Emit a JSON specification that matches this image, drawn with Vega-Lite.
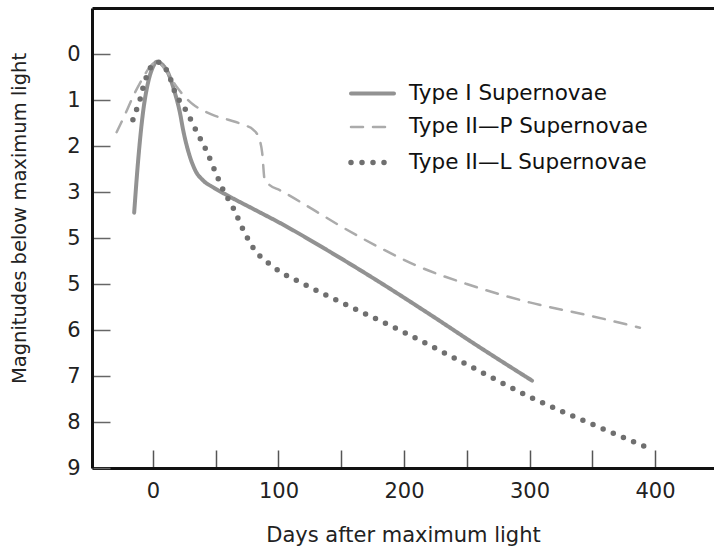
{
  "$schema": "https://vega.github.io/schema/vega-lite/v6.json",
  "width": 622,
  "height": 460,
  "autosize": {"type": "none"},
  "padding": {"left": 92, "top": 8, "right": 0, "bottom": 82},
  "background": "white",
  "config": {
    "view": {"stroke": null},
    "font": "DejaVu Sans",
    "legend": {
      "orient": "none", "legendX": 256, "legendY": 62, "title": null,
      "symbolType": "stroke", "symbolSize": 1849,
      "labelFont": "DejaVu Sans", "labelFontSize": 21.5, "labelColor": "#111", "labelLimit": 400,
      "labelOffset": 12, "padding": 0, "rowPadding": -3
    }
  },
  "data": {
    "values": [
      {"series": "Type I Supernovae", "day": -15, "mag": 3.45},
      {"series": "Type I Supernovae", "day": -12, "mag": 2.37},
      {"series": "Type I Supernovae", "day": -8, "mag": 1.28},
      {"series": "Type I Supernovae", "day": -4, "mag": 0.63},
      {"series": "Type I Supernovae", "day": 0, "mag": 0.28},
      {"series": "Type I Supernovae", "day": 3, "mag": 0.17},
      {"series": "Type I Supernovae", "day": 7, "mag": 0.22},
      {"series": "Type I Supernovae", "day": 12, "mag": 0.41},
      {"series": "Type I Supernovae", "day": 17.5, "mag": 0.85},
      {"series": "Type I Supernovae", "day": 21.5, "mag": 1.28},
      {"series": "Type I Supernovae", "day": 24, "mag": 1.65},
      {"series": "Type I Supernovae", "day": 29.5, "mag": 2.24},
      {"series": "Type I Supernovae", "day": 33.5, "mag": 2.52},
      {"series": "Type I Supernovae", "day": 40, "mag": 2.75},
      {"series": "Type I Supernovae", "day": 48, "mag": 2.9},
      {"series": "Type I Supernovae", "day": 59, "mag": 3.07},
      {"series": "Type I Supernovae", "day": 80, "mag": 3.37},
      {"series": "Type I Supernovae", "day": 101, "mag": 3.67},
      {"series": "Type I Supernovae", "day": 141, "mag": 4.3},
      {"series": "Type I Supernovae", "day": 180, "mag": 4.95},
      {"series": "Type I Supernovae", "day": 220, "mag": 5.65},
      {"series": "Type I Supernovae", "day": 260, "mag": 6.37},
      {"series": "Type I Supernovae", "day": 302, "mag": 7.1},

      {"series": "Type II—P Supernovae", "day": -29, "mag": 1.7},
      {"series": "Type II—P Supernovae", "day": -22, "mag": 1.3},
      {"series": "Type II—P Supernovae", "day": -16, "mag": 0.93},
      {"series": "Type II—P Supernovae", "day": -8, "mag": 0.52},
      {"series": "Type II—P Supernovae", "day": -3, "mag": 0.3},
      {"series": "Type II—P Supernovae", "day": 3, "mag": 0.17},
      {"series": "Type II—P Supernovae", "day": 10, "mag": 0.35},
      {"series": "Type II—P Supernovae", "day": 19, "mag": 0.72},
      {"series": "Type II—P Supernovae", "day": 26, "mag": 0.95},
      {"series": "Type II—P Supernovae", "day": 32, "mag": 1.1},
      {"series": "Type II—P Supernovae", "day": 40, "mag": 1.23},
      {"series": "Type II—P Supernovae", "day": 48, "mag": 1.33},
      {"series": "Type II—P Supernovae", "day": 60, "mag": 1.43},
      {"series": "Type II—P Supernovae", "day": 72, "mag": 1.54},
      {"series": "Type II—P Supernovae", "day": 80, "mag": 1.65},
      {"series": "Type II—P Supernovae", "day": 84, "mag": 1.8},
      {"series": "Type II—P Supernovae", "day": 87, "mag": 2.15},
      {"series": "Type II—P Supernovae", "day": 89, "mag": 2.74},
      {"series": "Type II—P Supernovae", "day": 93, "mag": 2.85},
      {"series": "Type II—P Supernovae", "day": 101, "mag": 2.96},
      {"series": "Type II—P Supernovae", "day": 128, "mag": 3.39},
      {"series": "Type II—P Supernovae", "day": 150, "mag": 3.75},
      {"series": "Type II—P Supernovae", "day": 180, "mag": 4.2},
      {"series": "Type II—P Supernovae", "day": 210, "mag": 4.6},
      {"series": "Type II—P Supernovae", "day": 250, "mag": 5.0},
      {"series": "Type II—P Supernovae", "day": 300, "mag": 5.4},
      {"series": "Type II—P Supernovae", "day": 350, "mag": 5.7},
      {"series": "Type II—P Supernovae", "day": 388, "mag": 5.95},

      {"series": "Type II—L Supernovae", "day": -16, "mag": 1.43},
      {"series": "Type II—L Supernovae", "day": -13, "mag": 1.2},
      {"series": "Type II—L Supernovae", "day": -10, "mag": 0.96},
      {"series": "Type II—L Supernovae", "day": -8, "mag": 0.74},
      {"series": "Type II—L Supernovae", "day": -4, "mag": 0.41},
      {"series": "Type II—L Supernovae", "day": 3, "mag": 0.17},
      {"series": "Type II—L Supernovae", "day": 12, "mag": 0.41},
      {"series": "Type II—L Supernovae", "day": 17.5, "mag": 0.83},
      {"series": "Type II—L Supernovae", "day": 27, "mag": 1.26},
      {"series": "Type II—L Supernovae", "day": 35, "mag": 1.7},
      {"series": "Type II—L Supernovae", "day": 43, "mag": 2.13},
      {"series": "Type II—L Supernovae", "day": 49, "mag": 2.52},
      {"series": "Type II—L Supernovae", "day": 56, "mag": 2.96},
      {"series": "Type II—L Supernovae", "day": 64, "mag": 3.35},
      {"series": "Type II—L Supernovae", "day": 72, "mag": 3.83},
      {"series": "Type II—L Supernovae", "day": 80, "mag": 4.22},
      {"series": "Type II—L Supernovae", "day": 96, "mag": 4.63},
      {"series": "Type II—L Supernovae", "day": 120, "mag": 5.0},
      {"series": "Type II—L Supernovae", "day": 150, "mag": 5.4},
      {"series": "Type II—L Supernovae", "day": 200, "mag": 6.05},
      {"series": "Type II—L Supernovae", "day": 250, "mag": 6.75},
      {"series": "Type II—L Supernovae", "day": 300, "mag": 7.45},
      {"series": "Type II—L Supernovae", "day": 350, "mag": 8.05},
      {"series": "Type II—L Supernovae", "day": 398, "mag": 8.6}
    ]
  },
  "layer": [
    {
      "mark": {"type": "line", "interpolate": "monotone", "strokeCap": "round", "strokeJoin": "round"},
      "encoding": {
        "x": {
          "field": "day", "type": "quantitative",
          "scale": {"domain": [-48.6, 447], "nice": false, "zero": false},
          "axis": {
            "orient": "bottom",
            "values": [0, 50, 100, 150, 200, 250, 300, 350, 400],
            "labelExpr": "datum.value % 100 == 0 ? datum.label : ''",
            "grid": false,
            "domainColor": "#111", "domainWidth": 3,
            "tickColor": "#555", "tickWidth": 1.5, "tickSize": -18,
            "labelPadding": 30,
            "labelFont": "DejaVu Sans", "labelFontSize": 21, "labelColor": "#222",
            "title": "Days after maximum light",
            "titleFont": "DejaVu Sans", "titleFontSize": 21, "titleFontWeight": "normal", "titleColor": "#222",
            "titleBaseline": "alphabetic", "titleY": 73
          }
        },
        "y": {
          "field": "mag", "type": "quantitative",
          "scale": {"domain": [-1, 9], "reverse": true, "nice": false, "zero": false},
          "axis": {
            "orient": "left",
            "values": [0, 1, 2, 3, 4, 5, 6, 7, 8, 9],
            "labelExpr": "datum.value == 4 ? '5' : datum.label",
            "grid": false,
            "domainColor": "#111", "domainWidth": 3,
            "tickColor": "#666", "tickWidth": 1.5, "tickSize": -18,
            "labelPadding": 30,
            "labelFont": "DejaVu Sans", "labelFontSize": 21, "labelColor": "#222",
            "title": "Magnitudes below maximum light",
            "titleFont": "DejaVu Sans", "titleFontSize": 19.5, "titleFontWeight": "normal", "titleColor": "#222",
            "titleBaseline": "alphabetic", "titleAlign": "center", "titleX": -67, "titleY": 210
          }
        },
        "color": {
          "field": "series", "type": "nominal",
          "scale": {
            "domain": ["Type I Supernovae", "Type II—P Supernovae", "Type II—L Supernovae"],
            "range": ["#929292", "#ababab", "#6f6f6f"]
          },
          "legend": {"encode": {"symbols": {"update": {"strokeCap": {"value": "round"}}}}}
        },
        "strokeDash": {
          "field": "series", "type": "nominal",
          "scale": {
            "domain": ["Type I Supernovae", "Type II—P Supernovae", "Type II—L Supernovae"],
            "range": [[1, 0], [12, 10], [0, 11]]
          },
          "legend": {"encode": {"symbols": {"update": {"strokeCap": {"value": "round"}}}}}
        },
        "strokeWidth": {
          "field": "series", "type": "ordinal",
          "scale": {
            "type": "ordinal",
            "domain": ["Type I Supernovae", "Type II—P Supernovae", "Type II—L Supernovae"],
            "range": [4, 2.5, 5.5]
          },
          "legend": {"encode": {"symbols": {"update": {"strokeCap": {"value": "round"}}}}}
        }
      }
    },
    {
      "mark": {"type": "line", "opacity": 0},
      "encoding": {
        "x": {
          "field": "day", "type": "quantitative",
          "axis": {"orient": "top", "labels": false, "ticks": false, "grid": false, "title": null, "domainColor": "#111", "domainWidth": 3}
        },
        "y": {"field": "mag", "type": "quantitative"},
        "detail": {"field": "series"}
      }
    }
  ],
  "resolve": {"axis": {"x": "independent"}}
}
